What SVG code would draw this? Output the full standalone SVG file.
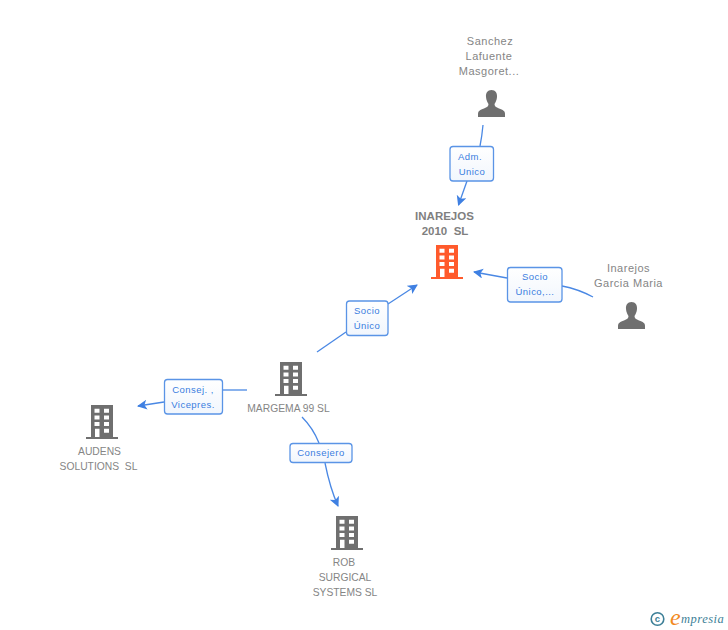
<svg xmlns="http://www.w3.org/2000/svg" xmlns:xlink="http://www.w3.org/1999/xlink" width="728" height="630" viewBox="0 0 728 630">
<style>
text{font-family:"Liberation Sans",Arial,sans-serif}
.n{font-size:10.3px;fill:#858585;text-anchor:middle}
.p{font-size:11px;fill:#858585;text-anchor:middle;letter-spacing:.5px}
.m{font-size:11.500px;font-weight:bold;fill:#7f7f7f;text-anchor:middle}
.l{font-size:9.500px;fill:#3a7de0;text-anchor:middle;letter-spacing:.45px}
.c{fill:none;stroke:#4a88e4;stroke-width:1.300}
.b{fill:url(#g);stroke:#5a94e6;stroke-width:1.300}
</style>
<defs>
<marker id="a" markerUnits="userSpaceOnUse" markerWidth="12" markerHeight="12" refX="9" refY="5" orient="auto">
<path d="M0 0L10 5L0 10L2.500 5Z" fill="#3f80e2"/>
</marker>
<linearGradient id="g" x1="0" y1="0" x2="0" y2="1"><stop offset="0" stop-color="#fff"/><stop offset="1" stop-color="#f1f6fd"/></linearGradient>
<symbol id="bld" width="32" height="34" viewBox="0 0 32 34" overflow="visible">
<path fill-rule="evenodd" d="M5 0H27V32H32V34H0V32H5ZM8.500 3.700v4h5v-4ZM18 3.700v4h5v-4ZM8.500 10.400v4h5v-4ZM18 10.400v4h5v-4ZM8.500 17v4h5v-4ZM18 17v4h5v-4ZM9 23.700V32h4.500V23.700ZM18 23.700v4h5v-4Z"/>
</symbol>
<symbol id="per" width="27" height="27" viewBox="0 0 27 27" overflow="visible">
<path d="M13.500 0C17.500 0 19.300 3 19 7C18.800 10 17.500 12.500 16.500 14C16.500 16.500 18 17 21 18.500C25 20 27 21 27 24V27H0V24C0 21 2 20 6 18.500C9 17 10.500 16.500 10.500 14C9.500 12.500 8.200 10 8 7C7.700 3 9.500 0 13.500 0Z" fill="#6f6f6f"/>
</symbol>
</defs>
<rect width="728" height="630" fill="#fff"/>
<g id="connectors">
<path class="c" d="M483 125Q482 136 480 146"/>
<path class="c" d="M467 181L458.500 205" marker-end="url(#a)"/>
<path class="c" d="M593 297Q578 289 562 286"/>
<path class="c" d="M507 278L474 272" marker-end="url(#a)"/>
<path class="c" d="M317 352L346 332"/>
<path class="c" d="M388 304L417 285" marker-end="url(#a)"/>
<path class="c" d="M247 390H223" stroke-width="1.800"/>
<path class="c" d="M164 402L138 406" marker-end="url(#a)"/>
<path class="c" d="M302 417Q313 428 319 443"/>
<path class="c" d="M325 463Q330 488 338 506" marker-end="url(#a)"/>
</g>
<g id="label-adm"><rect class="b" x="450" y="146.500" width="43.500" height="34.500" rx="3"/><text class="l" x="470" y="160">Adm.</text><text class="l" x="472" y="175">Unico</text></g>
<g id="label-socio-unico-dots"><rect class="b" x="507.500" y="267.500" width="54.500" height="34.500" rx="3"/><text class="l" x="535" y="280">Socio</text><text class="l" x="535" y="295">Único,...</text></g>
<g id="label-socio-unico"><rect class="b" x="346.500" y="301" width="41.500" height="34.500" rx="3"/><text class="l" x="367" y="314">Socio</text><text class="l" x="367" y="329">Único</text></g>
<g id="label-consej"><rect class="b" x="164.500" y="379.500" width="58" height="34.500" rx="3"/><text class="l" x="193" y="393">Consej. ,</text><text class="l" x="193" y="408">Vicepres.</text></g>
<g id="label-consejero"><rect class="b" x="290" y="443.500" width="62" height="19" rx="3"/><text class="l" x="321" y="456">Consejero</text></g>
<g id="node-sanchez"><text class="p" x="490" y="45">Sanchez</text><text class="p" x="489" y="60">Lafuente</text><text class="p" x="489" y="75">Masgoret...</text><use xlink:href="#per" href="#per" x="478" y="90"/></g>
<g id="node-inarejos-2010"><text class="m" x="444.500" y="220">INAREJOS</text><text class="m" x="445" y="235" xml:space="preserve">2010  SL</text><use href="#bld" xlink:href="#bld" x="431" y="245" fill="#ff5a2c"/></g>
<g id="node-inarejos-garcia"><text class="p" x="628.500" y="272">Inarejos</text><text class="p" x="628.500" y="287">Garcia Maria</text><use href="#per" xlink:href="#per" x="618" y="302"/></g>
<g id="node-margema"><use href="#bld" xlink:href="#bld" x="275" y="362" fill="#6f6f6f"/><text class="n" x="288.500" y="412">MARGEMA 99 SL</text></g>
<g id="node-audens"><use href="#bld" xlink:href="#bld" x="86" y="405" fill="#6f6f6f"/><text class="n" x="99.500" y="455">AUDENS</text><text class="n" x="98.500" y="470" xml:space="preserve">SOLUTIONS  SL</text></g>
<g id="node-rob"><use href="#bld" xlink:href="#bld" x="331" y="516" fill="#6f6f6f"/><text class="n" x="344" y="566">ROB</text><text class="n" x="345" y="581">SURGICAL</text><text class="n" x="345" y="596">SYSTEMS SL</text></g>
<g id="logo"><circle cx="657.500" cy="619" r="6.300" fill="none" stroke="#3d7f97" stroke-width="1.600"/><text x="657.500" y="622" font-size="9.500" font-weight="bold" fill="#3d7f97" text-anchor="middle">c</text><text x="670" y="625" font-size="24" font-style="italic" fill="#f28a1e" style="font-family:'Liberation Serif',serif">e</text><text x="681" y="623" font-size="12.500" font-style="italic" fill="#3d7f97" letter-spacing=".5" style="font-family:'Liberation Serif',serif">mpresia</text></g>
</svg>
